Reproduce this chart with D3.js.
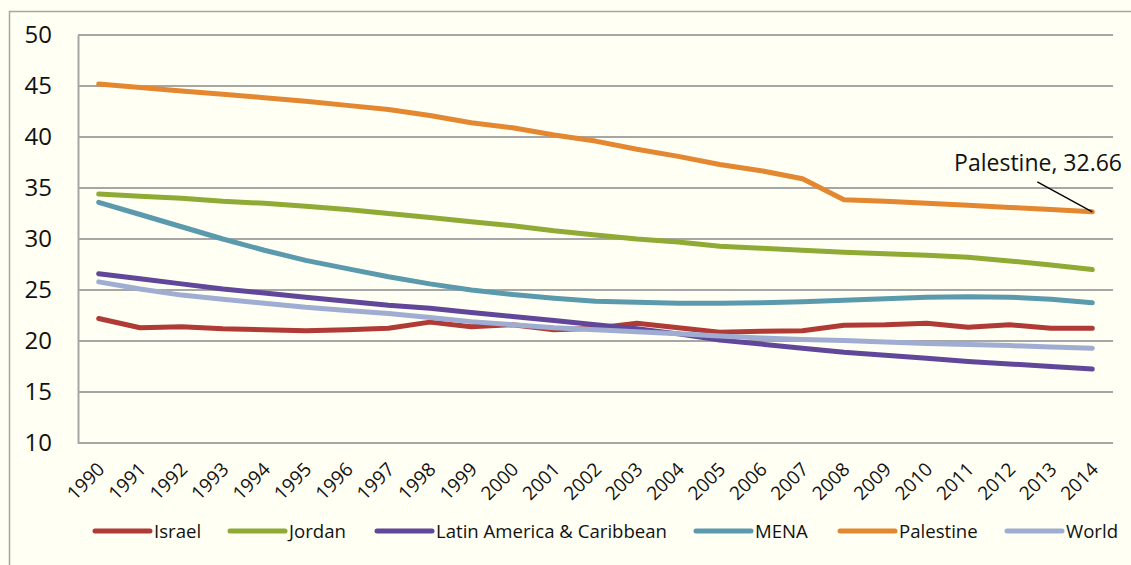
<!DOCTYPE html>
<html>
<head>
<meta charset="utf-8">
<script src="https://cdn.jsdelivr.net/npm/d3@7"></script>
<style>
  html, body { margin: 0; padding: 0; background: #fffff3; }
  svg { display: block; }
  text { font-family: "Open Sans", "Liberation Sans", sans-serif; fill: #111; }
</style>
</head>
<body>
<svg id="chart" width="1131" height="565"></svg>
<script>
const years = ["1990","1991","1992","1993","1994","1995","1996","1997","1998","1999","2000","2001","2002","2003","2004","2005","2006","2007","2008","2009","2010","2011","2012","2013","2014"];
const yTicks = [10, 15, 20, 25, 30, 35, 40, 45, 50];

const seriesNames = ["Israel", "Jordan", "Latin America & Caribbean", "MENA", "Palestine", "World"];
const israel    = [22.2,21.3,21.4,21.2,21.1,21.0,21.1,21.25,21.85,21.4,21.6,21.1,21.25,21.75,21.3,20.85,20.95,21.0,21.55,21.6,21.75,21.35,21.6,21.25,21.25];
const jordan    = [34.4,34.2,34.0,33.7,33.5,33.2,32.9,32.5,32.1,31.7,31.3,30.8,30.4,30.0,29.7,29.3,29.1,28.9,28.7,28.55,28.4,28.2,27.85,27.45,27.0];
const latin     = [26.6,26.1,25.6,25.1,24.7,24.3,23.9,23.5,23.2,22.8,22.4,22.0,21.6,21.2,20.7,20.1,19.7,19.3,18.9,18.6,18.3,18.0,17.75,17.5,17.25];
const mena      = [33.6,32.4,31.2,30.0,28.9,27.9,27.1,26.3,25.6,25.0,24.55,24.2,23.9,23.8,23.7,23.7,23.75,23.85,24.0,24.15,24.3,24.35,24.3,24.1,23.75];
const palestine = [45.2,44.85,44.5,44.2,43.85,43.5,43.1,42.7,42.1,41.4,40.9,40.2,39.6,38.8,38.1,37.3,36.7,35.9,33.85,33.7,33.5,33.3,33.1,32.9,32.66];
const world     = [25.8,25.1,24.5,24.1,23.7,23.3,23.0,22.7,22.3,21.9,21.6,21.3,21.1,20.9,20.7,20.5,20.3,20.15,20.05,19.9,19.75,19.65,19.55,19.4,19.3];
const seriesValues = [israel, jordan, latin, mena, palestine, world];
const seriesColors = ["#b03a36", "#8faa35", "#60479a", "#5b9aad", "#e38731", "#9fadd3"];
const annotationText = "Palestine, 32.66";

const svg = d3.select("#chart");
const plot = { left: 78, right: 1113, top: 35, bottom: 443 };

// outer frame
svg.append("rect").attr("x", 9.5).attr("y", 11.5).attr("width", 1200).attr("height", 700)
  .attr("fill", "#fffff3").attr("stroke", "#a6a6a6").attr("stroke-width", 1.5);

const x = d3.scalePoint().domain(years).range([plot.left, plot.right]).padding(0.5);
const y = d3.scaleLinear().domain([10, 50]).range([plot.bottom, plot.top]);

// gridlines
svg.append("g").selectAll("line").data(yTicks.filter(d => d > 10)).join("line")
  .attr("x1", plot.left).attr("x2", plot.right)
  .attr("y1", d => y(d)).attr("y2", d => y(d))
  .attr("stroke", "#a6a6a6").attr("stroke-width", 2);

// y axis
const yAxis = svg.append("g").attr("transform", `translate(${plot.left},0)`)
  .call(d3.axisLeft(y).tickValues(yTicks).tickSize(0).tickPadding(26));
yAxis.select(".domain").attr("stroke", "#a6a6a6").attr("stroke-width", 2);
yAxis.selectAll("text").style("font-size", "24px").attr("fill", "#111");

// x axis
const xAxis = svg.append("g").attr("transform", `translate(0,${plot.bottom})`)
  .call(d3.axisBottom(x).tickSize(0).tickPadding(0));
xAxis.select(".domain").attr("stroke", "#a6a6a6").attr("stroke-width", 2)
  .attr("d", `M${plot.left},0H${plot.right}`);
xAxis.selectAll("text")
  .style("font-size", "19px")
  .attr("text-anchor", "end")
  .attr("dy", "0")
  .attr("y", 0)
  .attr("transform", "translate(3,24) rotate(-45)")
  .attr("dominant-baseline", "middle");

// lines
const line = d3.line().x((d, i) => x(years[i])).y(d => y(d));
svg.append("g").selectAll("path").data(seriesValues).join("path")
  .attr("d", d => line(d))
  .attr("fill", "none")
  .attr("stroke", (d, i) => seriesColors[i])
  .attr("stroke-width", 5)
  .attr("stroke-linejoin", "round")
  .attr("stroke-linecap", "round");

// annotation
const lastX = x(years[years.length - 1]), lastY = y(palestine[palestine.length - 1]);
svg.append("line")
  .attr("x1", lastX - 55).attr("y1", lastY - 30)
  .attr("x2", lastX).attr("y2", lastY)
  .attr("stroke", "#000").attr("stroke-width", 1.3);
svg.append("text")
  .attr("x", 1122).attr("y", lastY - 41)
  .attr("text-anchor", "end")
  .style("font-size", "23px")
  .text(annotationText);

// legend
const legendX = [95, 230, 377, 696, 840, 1007];
const legendY = 531;
const lg = svg.append("g").selectAll("g").data(seriesNames).join("g")
  .attr("transform", (d, i) => `translate(${legendX[i]},${legendY})`);
lg.append("line").attr("x1", 0).attr("x2", 55).attr("y1", 0).attr("y2", 0)
  .attr("stroke", (d, i) => seriesColors[i]).attr("stroke-width", 5).attr("stroke-linecap", "round");
lg.append("text").attr("x", 59).attr("y", 0).attr("dy", "0.35em")
  .style("font-size", "18.6px").text(d => d);
</script>
</body>
</html>
